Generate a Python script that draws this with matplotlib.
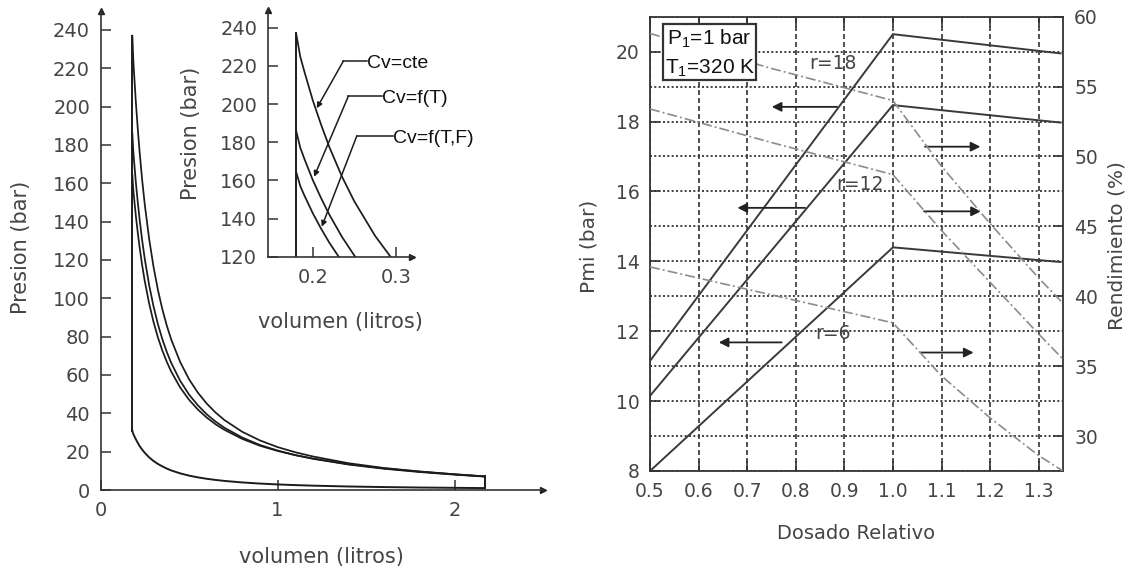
import matplotlib
matplotlib.use('Agg')
import matplotlib.pyplot as plt
from matplotlib.ticker import MultipleLocator, FixedLocator, FormatStrFormatter
from matplotlib.patches import Rectangle

plt.rcParams['font.family'] = ['DejaVu Sans']

# ---------------- data: left chart (p-V cycle) ----------------
volumen = [0.18, 0.185, 0.19, 0.2, 0.21, 0.22, 0.235, 0.25, 0.275, 0.3, 0.325, 0.35,
           0.375, 0.4, 0.45, 0.5, 0.55, 0.6, 0.65, 0.7, 0.8, 0.9, 1.0, 1.1, 1.2, 1.4,
           1.6, 1.8, 2.0, 2.17]
p_cte = [237, 224.8, 216.9, 202.0, 189.2, 177.4, 162.1, 149.0, 130.9, 116.2, 104.1, 94.1,
         85.6, 78.4, 66.8, 57.8, 50.8, 45.1, 40.4, 36.5, 30.4, 25.9, 22.4, 19.7, 17.5, 14.0,
         11.5, 9.7, 8.2, 7.1]
p_fT = [186, 177.1, 171.2, 160.2, 150.7, 142.0, 130.5, 120.6, 106.8, 95.6, 86.3, 78.5,
        71.9, 66.2, 57.0, 49.8, 44.2, 39.5, 35.7, 32.5, 27.4, 23.5, 20.6, 18.2, 16.3, 13.3,
        11.1, 9.4, 8.0, 7.0]
p_fTF = [164.5, 157.0, 152.0, 142.8, 134.7, 127.3, 117.5, 109.0, 97.2, 87.5, 79.4, 72.6,
         66.8, 61.7, 53.5, 47.1, 42.0, 37.8, 34.3, 31.4, 26.7, 23.1, 20.4, 18.2, 16.4, 13.5,
         11.3, 9.6, 8.2, 7.1]
p_comp = [30.9, 29.3, 28.3, 26.4, 24.7, 23.1, 21.1, 19.4, 17.0, 15.1, 13.56, 12.3,
          11.15, 10.2, 8.68, 7.5, 6.6, 5.85, 5.25, 4.74, 3.95, 3.36, 2.91, 2.55, 2.27, 1.83,
          1.53, 1.30, 1.13, 1.0]

main_yticks = [0, 20, 40, 60, 80, 100, 120, 140, 160, 180, 200, 220, 240]
main_xticks = [0, 1, 2]
inset_yticks = [120, 140, 160, 180, 200, 220, 240]
inset_xticks = [0.2, 0.3]

cv_labels = ['Cv=cte', 'Cv=f(T)', 'Cv=f(T,F)']
cv_text_x = [0.265, 0.2831, 0.2964]
cv_text_y = [221.4, 203.0, 182.1]
cv_elbow_x = [0.2369, 0.2429, 0.253]
cv_elbow_y = [222.6, 204.2, 183.3]
cv_tip_x = [0.2048, 0.2016, 0.2108]
cv_tip_y = [197.8, 161.9, 135.7]

# ---------------- data: right chart ----------------
dosado = [0.5, 1.0, 1.345]
pmi_r18 = [11.15, 20.5, 19.95]
pmi_r12 = [10.15, 18.47, 17.97]
pmi_r6 = [8.0, 14.4, 13.98]

dosado_rend = [0.5, 0.75, 1.0, 1.1, 1.2, 1.3, 1.35]
rend_r18 = [58.8, 56.3, 54.0, 49.3, 45.2, 41.3, 39.5]
rend_r12 = [53.4, 51.0, 48.7, 44.7, 41.0, 37.3, 35.5]
rend_r6 = [42.1, 40.1, 38.1, 34.3, 31.3, 28.6, 27.5]

r_labels = ['r=18', 'r=12', 'r=6']
r_label_x = [0.876, 0.932, 0.876]
r_label_y = [19.66, 16.19, 11.94]

arrL_tail = [0.885, 0.819, 0.771]
arrL_head = [0.7506, 0.680, 0.6415]
arrL_y = [18.42, 15.53, 11.68]
arrR_tail = [1.066, 1.064, 1.056]
arrR_head = [1.18, 1.181, 1.166]
arrR_y = [17.28, 15.43, 11.39]

dos_ticks = [0.5, 0.6, 0.7, 0.8, 0.9, 1.0, 1.1, 1.2, 1.3]
pmi_ticks = [8, 10, 12, 14, 16, 18, 20]
rend_ticks = [30, 35, 40, 45, 50, 55, 60]

# ---------------- figure ----------------
W, H = 1128, 571
fig = plt.figure(figsize=(W / 100, H / 100), dpi=100)


def rect(l, t, r, b):
    return [l / W, 1 - b / H, (r - l) / W, (b - t) / H]


TXT = '#454545'
LINE = '#1c1c1c'
SP = '#333333'


def draw_cycle(ax, lw):
    ax.plot(volumen, p_comp, color=LINE, lw=lw, solid_joinstyle='round')
    for p in (p_cte, p_fT, p_fTF):
        ax.plot(volumen, p, color=LINE, lw=lw * 0.9, solid_joinstyle='round')
    ax.plot([volumen[0], volumen[0]], [p_comp[0], p_cte[0]], color=LINE, lw=lw)
    ax.plot([volumen[-1], volumen[-1]], [p_comp[-1], max(p_cte[-1], p_fT[-1], p_fTF[-1])],
            color=LINE, lw=lw)


def style_open(ax, fs):
    for s in ('top', 'right'):
        ax.spines[s].set_visible(False)
    for s in ('left', 'bottom'):
        ax.spines[s].set_color(SP)
        ax.spines[s].set_linewidth(1.2)
    ax.tick_params(axis='both', direction='in', length=7, width=1.1, color=SP,
                   labelsize=fs, labelcolor=TXT)
    ax.tick_params(axis='x', pad=8)
    ax.tick_params(axis='y', pad=7.5)
    ax.plot(1, 0, '>', color='#222', ms=5, transform=ax.transAxes, clip_on=False)
    ax.plot(0, 1, '^', color='#222', ms=5, transform=ax.transAxes, clip_on=False)
    ax.patch.set_visible(False)


# main p-V axes
ax = fig.add_axes(rect(100.5, 10.8, 543, 490))
ax.set_xlim(0, 2.5)
ax.set_ylim(0, 250)
draw_cycle(ax, 1.4)
ax.set_xticks(main_xticks)
ax.set_yticks(main_yticks)
style_open(ax, 14)
fig.text(21.5 / W, 1 - 247 / H, 'Presion (bar)', rotation=90, ha='center', va='center',
         fontsize=15, color=TXT)
fig.text(321.5 / W, 1 - 556.7 / H, 'volumen (litros)', ha='center', va='center',
         fontsize=15, color=TXT)

# inset
axi = fig.add_axes(rect(267.7, 10, 411.7, 256.7))
axi.set_xlim(0.1458, 0.319)
axi.set_ylim(120, 249.3)
draw_cycle(axi, 1.4)
axi.set_xticks(inset_xticks)
axi.set_yticks(inset_yticks)
axi.xaxis.set_major_formatter(FormatStrFormatter('%.1f'))
style_open(axi, 14)
fig.text(190.7 / W, 1 - 133 / H, 'Presion (bar)', rotation=90, ha='center', va='center',
         fontsize=15, color=TXT)
fig.text(340 / W, 1 - 321.7 / H, 'volumen (litros)', ha='center', va='center',
         fontsize=15, color=TXT)

for lab, tx, ty, ex, ey, px, py in zip(cv_labels, cv_text_x, cv_text_y, cv_elbow_x,
                                       cv_elbow_y, cv_tip_x, cv_tip_y):
    axi.plot([ex, tx], [ey, ey], color=LINE, lw=1.1, clip_on=False)
    axi.annotate('', xy=(px, py), xytext=(ex, ey), annotation_clip=False,
                 arrowprops=dict(arrowstyle='-|>', color=LINE, lw=1.1, shrinkA=0,
                                 shrinkB=0, mutation_scale=8))
    axi.text(tx, ty, lab, ha='left', va='center', fontsize=14, color='#111',
             family='Liberation Sans', clip_on=False)

# right chart
ax2 = fig.add_axes(rect(650, 16.7, 1063, 471))
ax2.set_xlim(0.5, 1.35)
ax2.set_ylim(8, 21)
ax2.xaxis.set_major_locator(FixedLocator(dos_ticks))
ax2.xaxis.set_major_formatter(FormatStrFormatter('%.1f'))
ax2.yaxis.set_major_locator(FixedLocator(pmi_ticks))
ax2.yaxis.set_minor_locator(MultipleLocator(1))
ax2.grid(axis='y', which='both', ls=(0, (1.1, 1.3)), color=SP, lw=1.3)
ax2.grid(axis='x', which='major', ls=(0, (3, 1.8)), color=SP, lw=1.2)
ax2.set_axisbelow(True)
for s in ax2.spines.values():
    s.set_color(SP)
    s.set_linewidth(1.3)
ax2.tick_params(axis='both', which='major', direction='in', length=7, width=1.2,
                color=SP, labelsize=13.5, labelcolor=TXT, top=True, right=False)
ax2.tick_params(axis='y', which='minor', length=0)
ax2.tick_params(axis='x', pad=8)
ax2.tick_params(axis='y', pad=7.5)

for p in (pmi_r18, pmi_r12, pmi_r6):
    ax2.plot(dosado, p, color='#3a3a3a', lw=1.4)

for lab, x, y in zip(r_labels, r_label_x, r_label_y):
    ax2.text(x, y, lab, ha='center', va='center', fontsize=13.5, color=TXT)

for t, h, y in zip(arrL_tail, arrL_head, arrL_y):
    ax2.annotate('', xy=(h, y), xytext=(t, y),
                 arrowprops=dict(arrowstyle='-|>', color='#222', lw=1.3, shrinkA=0,
                                 shrinkB=0, mutation_scale=14))
for t, h, y in zip(arrR_tail, arrR_head, arrR_y):
    ax2.annotate('', xy=(h, y), xytext=(t, y),
                 arrowprops=dict(arrowstyle='-|>', color='#222', lw=1.3, shrinkA=0,
                                 shrinkB=0, mutation_scale=14))

ax2r = ax2.twinx()
ax2r.set_ylim(27.5, 60)
ax2r.set_yticks(rend_ticks)
ax2r.tick_params(axis='y', direction='in', length=7, width=1.2, color=SP,
                 labelsize=13.5, labelcolor=TXT, pad=8)
for s in ax2r.spines.values():
    s.set_visible(False)
for r in (rend_r18, rend_r12, rend_r6):
    ax2r.plot(dosado_rend, r, color='#8c8c8c', lw=1.2, ls=(0, (6, 1.8, 1.2, 1.8)))

box = Rectangle((663.3 / W, 1 - 80 / H), 92.4 / W, 55.7 / H, transform=fig.transFigure,
                facecolor='white', edgecolor=SP, lw=1.6, zorder=10)
ax2r.add_artist(box)
ax2r.text(667 / W, 1 - 38.3 / H, r'P$_{\mathregular{1}}$=1 bar', transform=fig.transFigure,
          ha='left', va='center', fontsize=15, family='Liberation Sans', color='#111',
          zorder=11)
ax2r.text(665 / W, 1 - 68.3 / H, r'T$_{\mathregular{1}}$=320 K', transform=fig.transFigure,
          ha='left', va='center', fontsize=15, family='Liberation Sans', color='#111',
          zorder=11)

fig.text(589 / W, 1 - 246 / H, 'Pmi (bar)', rotation=90, ha='center', va='center',
         fontsize=14.5, color=TXT)
fig.text(1116.7 / W, 1 - 246 / H, 'Rendimiento (%)', rotation=90, ha='center',
         va='center', fontsize=14.5, color=TXT)
fig.text(856.5 / W, 1 - 533.3 / H, 'Dosado Relativo', ha='center', va='center',
         fontsize=14, color=TXT)

fig.savefig('out.png', dpi=100)
